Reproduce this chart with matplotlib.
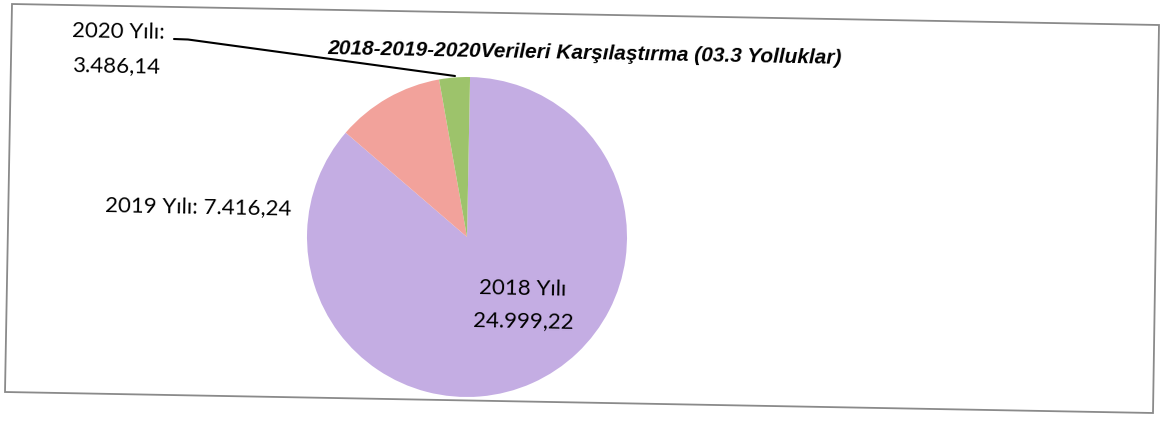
import matplotlib
matplotlib.use("Agg")
import matplotlib.pyplot as plt
from matplotlib.patches import Polygon

# ---- data ----
years = ["2018", "2019", "2020"]
label_values = ["24.999,22", "7.416,24", "3.486,14"]   # printed data labels
slice_shares = [86.0, 10.9, 3.1]                      # visible share of each slice (%)
colors = ["#C4ADE3", "#F2A29B", "#9DC36B"]
title = "2018-2019-2020Verileri Karşılaştırma (03.3 Yolluklar)"

W, H = 1161, 421
TILT = -1.1  # scan rotation (degrees)

fig = plt.figure(figsize=(W / 100, H / 100), dpi=100)
ax = fig.add_axes([0, 0, 1, 1])


def Y(y):
    return H - y


ax.pie(slice_shares, colors=colors, startangle=90 + TILT, counterclock=False,
       radius=160, center=(467, Y(237)), wedgeprops=dict(linewidth=0), frame=True)
ax.set_xlim(0, W)
ax.set_ylim(0, H)
ax.set_aspect("auto")
ax.axis("off")

# chart frame (slightly rotated as in the scan)
frame = Polygon([(12, Y(4)), (1159, Y(25)), (1153, Y(413)), (5, Y(392))],
                closed=True, fill=False, edgecolor="#8a8a8a", linewidth=1.3)
ax.add_patch(frame)

lab_font = dict(family=["Lato", "DejaVu Sans"], size=16, color="black",
                rotation=TILT, rotation_mode="anchor")

# 2020 label with leader line
ax.text(72, Y(37), f"{years[2]} Yılı:", ha="left", va="baseline", **lab_font)
ax.text(72, Y(71.5), label_values[2], ha="left", va="baseline", **lab_font)
ax.plot([174, 188, 455], [Y(39), Y(39.5), Y(76)], color="black", lw=1.5,
        solid_capstyle="round")

# 2019 label
ax.text(105, Y(211), f"{years[1]} Yılı: {label_values[1]}", ha="left",
        va="baseline", **lab_font)

# 2018 label inside slice
ax.text(523, Y(295), f"{years[0]} Yılı", ha="center", va="baseline", **lab_font)
ax.text(523, Y(327), label_values[0], ha="center", va="baseline", **lab_font)

# title
ax.text(327, Y(54), title, ha="left", va="baseline",
        family=["Liberation Sans", "DejaVu Sans"], fontsize=15, fontweight="bold",
        fontstyle="italic", color="black", rotation=TILT, rotation_mode="anchor")

fig.savefig("out.png", dpi=100)
